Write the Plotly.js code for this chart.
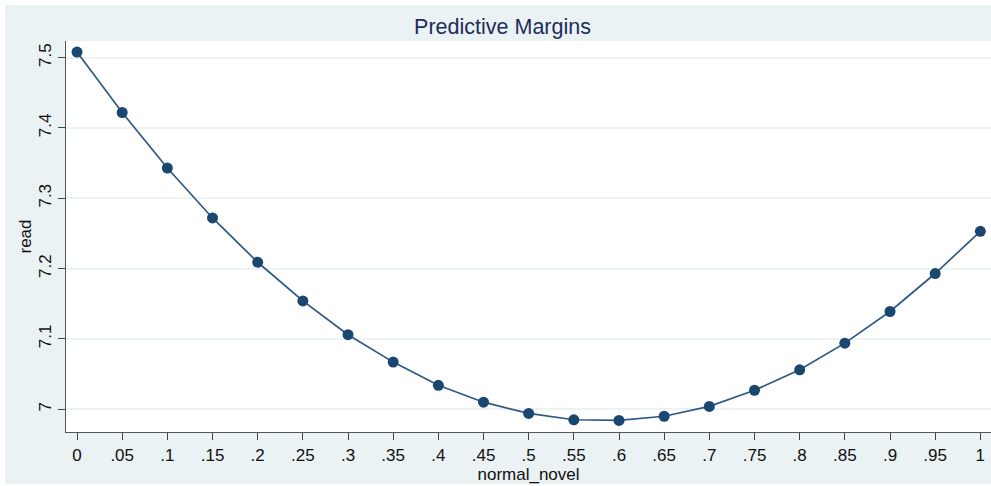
<!DOCTYPE html>
<html>
<head>
<meta charset="utf-8">
<script src="https://cdn.plot.ly/plotly-3.0.1.min.js"></script>
<style>
html, body { margin: 0; padding: 0; background: #ffffff; }
#chart { position: absolute; left: 5px; top: 5px; width: 986px; height: 479px; }
</style>
</head>
<body>
<div id="chart"></div>
<script>
const xValues = [0, 0.05, 0.1, 0.15, 0.2, 0.25, 0.3, 0.35, 0.4, 0.45, 0.5, 0.55, 0.6, 0.65, 0.7, 0.75, 0.8, 0.85, 0.9, 0.95, 1];
const readMargins = [7.508, 7.422, 7.343, 7.272, 7.209, 7.154, 7.106, 7.067, 7.034, 7.010, 6.994, 6.985, 6.984, 6.990, 7.004, 7.027, 7.056, 7.094, 7.139, 7.193, 7.253];
const xTickVals = [0, 0.05, 0.1, 0.15, 0.2, 0.25, 0.3, 0.35, 0.4, 0.45, 0.5, 0.55, 0.6, 0.65, 0.7, 0.75, 0.8, 0.85, 0.9, 0.95, 1];
const xTickText = ["0", ".05", ".1", ".15", ".2", ".25", ".3", ".35", ".4", ".45", ".5", ".55", ".6", ".65", ".7", ".75", ".8", ".85", ".9", ".95", "1"];
const yTickVals = [7, 7.1, 7.2, 7.3, 7.4, 7.5];
const yTickText = ["7", "7.1", "7.2", "7.3", "7.4", "7.5"];

const font = "Liberation Sans, Arial, sans-serif";

const trace = {
  x: xValues,
  y: readMargins,
  type: "scatter",
  mode: "lines+markers",
  line: { color: "#2f5884", width: 1.7 },
  marker: { color: "#1a476f", size: 11 },
  hoverinfo: "x+y"
};

const layout = {
  width: 986,
  height: 479,
  paper_bgcolor: "#eaf2f3",
  plot_bgcolor: "#ffffff",
  margin: { l: 61, r: 0, t: 36, b: 52, pad: 0 },
  showlegend: false,
  title: {
    text: "Predictive Margins",
    font: { family: font, size: 21.5, color: "#1e2d5c" },
    xref: "container", x: 0.5046, xanchor: "center",
    yref: "container", y: 0.956, yanchor: "middle"
  },
  xaxis: {
    range: [-0.0122, 1.0118],
    tickmode: "array",
    tickvals: xTickVals,
    ticktext: xTickText,
    ticks: "outside",
    ticklen: 7,
    tickwidth: 1.3,
    tickcolor: "#444444",
    showline: true,
    linecolor: "#555555",
    linewidth: 1.3,
    showgrid: false,
    zeroline: false,
    tickfont: { family: font, size: 17, color: "#111111" },
    title: { text: "normal_novel", font: { family: font, size: 17, color: "#111111" }, standoff: 2 },
    automargin: false
  },
  yaxis: {
    range: [6.9676, 7.5237],
    tickmode: "array",
    tickvals: yTickVals,
    ticktext: yTickText,
    tickangle: -90,
    ticks: "outside",
    ticklen: 7,
    tickwidth: 1.3,
    tickcolor: "#444444",
    showline: true,
    linecolor: "#555555",
    linewidth: 1.3,
    showgrid: true,
    gridcolor: "#edf3f5",
    gridwidth: 1.5,
    zeroline: false,
    tickfont: { family: font, size: 17, color: "#111111" },
    title: { text: "read", font: { family: font, size: 17, color: "#111111" }, standoff: 0 },
    automargin: false
  }
};

Plotly.newPlot("chart", [trace], layout, { displayModeBar: false });
</script>
</body>
</html>
